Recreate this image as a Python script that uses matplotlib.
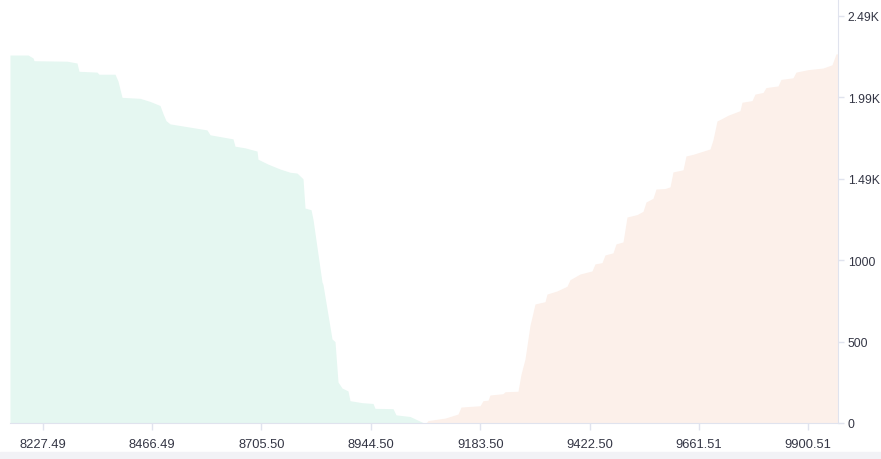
import matplotlib
matplotlib.use("Agg")
import matplotlib.pyplot as plt
from matplotlib.patches import Rectangle

# Bid side (cumulative depth)
bid_price = [8156.0, 8195.4, 8206.3, 8208.5, 8280.6, 8302.4, 8306.8, 8346.1, 8350.5,
             8385.5, 8392.0, 8400.8, 8440.1, 8462.0, 8483.8, 8490.4, 8496.9, 8505.7,
             8542.8, 8586.5, 8593.1, 8643.3, 8647.7, 8669.6, 8695.8, 8698.0, 8719.8,
             8746.0, 8767.9, 8783.2, 8796.3, 8800.7, 8813.8, 8818.2, 8837.8, 8840.0,
             8859.7, 8866.2, 8872.8, 8881.5, 8894.6, 8899.0, 8925.2, 8949.3, 8953.6,
             8993.0, 8999.5, 9030.1, 9045.4, 9060.7]
bid_depth = [2260, 2260, 2242, 2225, 2222, 2211, 2160, 2155, 2142,
             2142, 2100, 2000, 1994, 1975, 1950, 1900, 1857, 1837,
             1820, 1800, 1770, 1745, 1700, 1690, 1670, 1620, 1590,
             1560, 1540, 1535, 1500, 1320, 1310, 1250, 866, 850,
             516, 500, 252, 215, 197, 137, 125, 120, 90,
             88, 50, 40, 20, 0]

# Ask side
ask_price = [9065.1, 9069.5, 9106.6, 9135.0, 9141.6, 9183.1, 9189.6, 9200.6, 9204.9,
             9233.3, 9237.7, 9266.1, 9272.7, 9281.4, 9292.3, 9303.3, 9325.1, 9329.5,
             9351.3, 9373.2, 9379.7, 9401.6, 9427.8, 9434.4, 9449.7, 9456.2, 9473.7,
             9480.3, 9495.6, 9504.3, 9526.2, 9539.3, 9545.8, 9561.1, 9567.7, 9587.3,
             9598.3, 9604.8, 9626.7, 9633.2, 9648.5, 9685.7, 9692.2, 9701.0, 9711.9,
             9725.0, 9751.2, 9755.6, 9777.5, 9784.0, 9801.5, 9808.0, 9834.3, 9840.8,
             9867.0, 9873.6, 9899.8, 9932.6, 9952.3, 9961.0, 9965.4]
ask_depth = [0, 15, 30, 55, 98, 106, 137, 140, 172,
             180, 192, 195, 300, 393, 600, 731, 745, 792,
             811, 840, 880, 915, 934, 977, 985, 1032, 1045,
             1100, 1112, 1265, 1280, 1300, 1357, 1380, 1437, 1440,
             1450, 1542, 1555, 1640, 1650, 1683, 1740, 1855, 1870,
             1890, 1918, 1970, 1980, 2020, 2030, 2060, 2070, 2110,
             2120, 2155, 2170, 2180, 2200, 2267, 2267]

x_ticks = [8227.49, 8466.49, 8705.50, 8944.50, 9183.50, 9422.50, 9661.51, 9900.51]
x_labels = ["8227.49", "8466.49", "8705.50", "8944.50", "9183.50", "9422.50", "9661.51", "9900.51"]
y_ticks = [0, 500, 1000, 1500, 2000, 2500]
y_labels = ["0", "500", "1000", "1.49K", "1.99K", "2.49K"]

W, H = 881, 460
fig = plt.figure(figsize=(W / 100, H / 100), dpi=100)
plt.rcParams['font.family'] = ['Liberation Sans', 'DejaVu Sans']

# plot area in pixels: x 10..838, y 0..424
ax = fig.add_axes([10 / W, 1 - 424 / H, 828 / W, 424 / H])

ax.fill_between(bid_price, bid_depth, 0, color="#e5f7f1", linewidth=0)
ax.fill_between(ask_price, ask_depth, 0, color="#fcf0ea", linewidth=0)

ax.set_xlim(8156.0, 9965.4)
ax.set_ylim(0, 2604)

ax.yaxis.tick_right()
ax.set_yticks(y_ticks)
ax.set_yticklabels(y_labels)
ax.set_xticks(x_ticks)
ax.set_xticklabels(x_labels)

axis_color = "#e0e3ee"
for side in ["top", "left"]:
    ax.spines[side].set_visible(False)
ax.spines["right"].set_color(axis_color)
ax.spines["bottom"].set_color(axis_color)

ax.tick_params(axis="x", colors=axis_color, labelcolor="#343645", labelsize=9.3,
               length=5, width=1, pad=6)
ax.tick_params(axis="y", colors=axis_color, labelcolor="#343645", labelsize=8.8,
               length=4, width=1, pad=3)

# light strip at the very bottom
fig.patches.append(Rectangle((0, 0), 1, 7 / H, transform=fig.transFigure,
                             color="#f2f2f6", zorder=0))

fig.savefig("out.png", dpi=100)
